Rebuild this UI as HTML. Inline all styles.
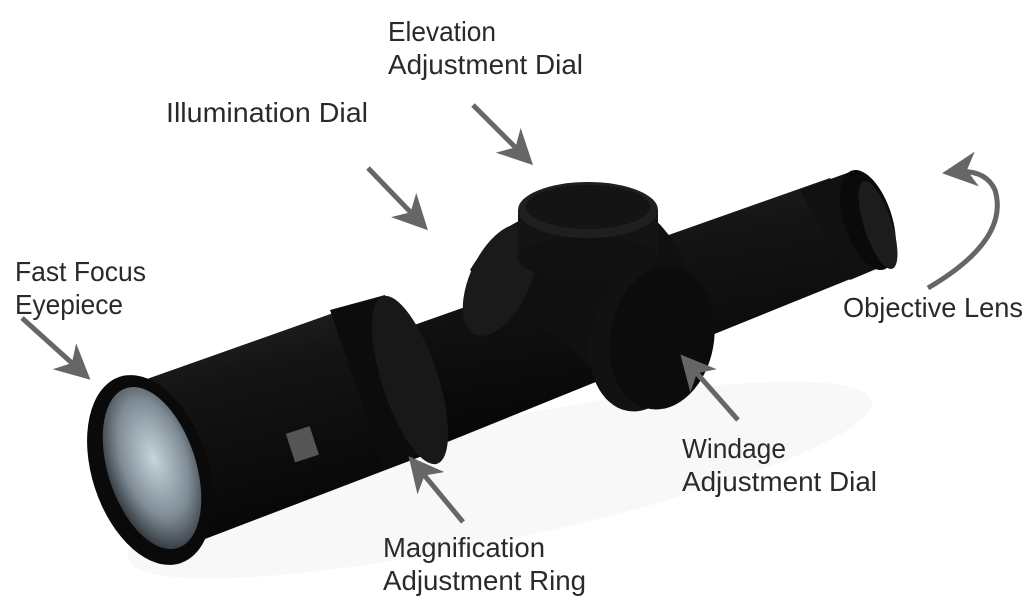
<!DOCTYPE html>
<html><head><meta charset="utf-8"><style>
html,body{margin:0;padding:0;background:#fff;}
svg{display:block}
text{font-family:"Liberation Sans",sans-serif;font-size:28px;fill:#2a2a2a;}
</style></head><body>
<svg width="1035" height="612" viewBox="0 0 1035 612" xmlns="http://www.w3.org/2000/svg">
<defs>
<linearGradient id="tube" x1="0" y1="0" x2="0.3" y2="1">
<stop offset="0" stop-color="#2a2a2a"/><stop offset="0.35" stop-color="#151515"/><stop offset="1" stop-color="#050505"/>
</linearGradient>
<radialGradient id="lens" cx="0.55" cy="0.45" r="0.6">
<stop offset="0" stop-color="#c8d4dc"/><stop offset="0.6" stop-color="#7f8c96"/><stop offset="1" stop-color="#2a3036"/>
</radialGradient>
<marker id="ah" markerWidth="7" markerHeight="7" refX="5" refY="3.5" orient="auto" markerUnits="strokeWidth">
<path d="M0,0 L7,3.5 L0,7 L2,3.5 z" fill="#666"/>
</marker>
</defs>
<ellipse cx="500" cy="480" rx="380" ry="60" fill="#f8f8f8" transform="rotate(-12 500 480)"/>
<polygon points="400,330 830,178 885,265 440,445" fill="url(#tube)"/>
<polygon points="800,190 850,172 893,262 850,280" fill="#111"/>
<ellipse cx="868" cy="220" rx="24" ry="52" fill="#0a0a0a" transform="rotate(-18 868 220)"/>
<ellipse cx="878" cy="225" rx="14" ry="46" fill="#1c1c1c" transform="rotate(-18 878 225)"/>
<path d="M470,270 Q500,220 540,215 L650,215 Q690,250 690,300 L680,390 Q640,400 600,380 Q560,330 520,320 Z" fill="#101010"/>
<ellipse cx="500" cy="280" rx="30" ry="60" fill="#1a1a1a" transform="rotate(25 500 280)"/>
<rect x="518" y="210" width="140" height="48" fill="#141414"/>
<ellipse cx="588" cy="258" rx="70" ry="22" fill="#111"/>
<ellipse cx="588" cy="210" rx="70" ry="28" fill="#1f1f1f"/>
<ellipse cx="588" cy="207" rx="62" ry="22" fill="#141414"/>
<ellipse cx="640" cy="340" rx="50" ry="72" fill="#121212" transform="rotate(10 640 340)"/>
<ellipse cx="662" cy="338" rx="52" ry="72" fill="#0c0c0c" transform="rotate(10 662 338)"/>
<polygon points="130,385 370,300 425,455 150,560" fill="url(#tube)"/>
<polygon points="330,310 385,295 440,445 385,470" fill="#0c0c0c"/>
<ellipse cx="410" cy="380" rx="28" ry="88" fill="#181818" transform="rotate(-18 410 380)"/>
<ellipse cx="150" cy="470" rx="58" ry="98" fill="#0a0a0a" transform="rotate(-18 150 470)"/>
<ellipse cx="152" cy="468" rx="44" ry="84" fill="url(#lens)" transform="rotate(-18 152 468)"/>
<rect x="290" y="430" width="25" height="30" fill="#555" transform="rotate(-18 300 445)"/>
<g stroke="#666" stroke-width="5" fill="none" marker-end="url(#ah)">
<line x1="473" y1="105" x2="526" y2="158"/>
<line x1="368" y1="168" x2="421" y2="223"/>
<line x1="22" y1="318" x2="83" y2="373"/>
<line x1="463" y1="522" x2="415" y2="464"/>
<line x1="738" y1="420" x2="687" y2="362"/>
<path d="M928,288 Q1010,240 995,190 Q985,168 952,172"/>
</g>
<g>
<text x="388" y="41" textLength="108" lengthAdjust="spacingAndGlyphs">Elevation</text>
<text x="388" y="74" textLength="195" lengthAdjust="spacingAndGlyphs">Adjustment Dial</text>
<text x="166" y="122" textLength="202" lengthAdjust="spacingAndGlyphs">Illumination Dial</text>
<text x="15" y="281" textLength="131" lengthAdjust="spacingAndGlyphs">Fast Focus</text>
<text x="15" y="314" textLength="108" lengthAdjust="spacingAndGlyphs">Eyepiece</text>
<text x="843" y="317" textLength="180" lengthAdjust="spacingAndGlyphs">Objective Lens</text>
<text x="682" y="458" textLength="104" lengthAdjust="spacingAndGlyphs">Windage</text>
<text x="682" y="491" textLength="195" lengthAdjust="spacingAndGlyphs">Adjustment Dial</text>
<text x="383" y="557" textLength="162" lengthAdjust="spacingAndGlyphs">Magnification</text>
<text x="383" y="590" textLength="203" lengthAdjust="spacingAndGlyphs">Adjustment Ring</text>
</g>
</svg>
</body></html>
